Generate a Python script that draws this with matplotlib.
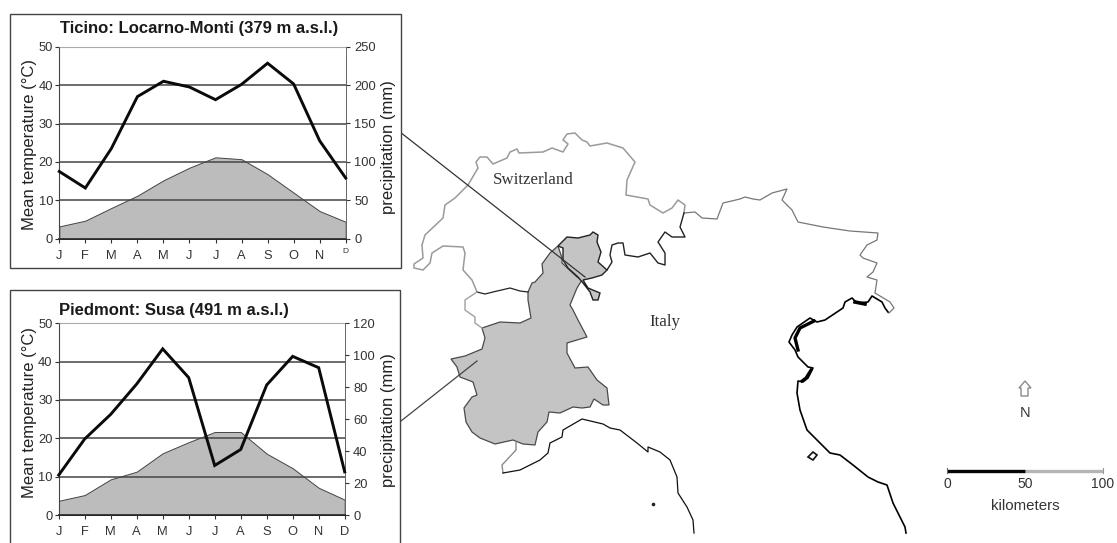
import matplotlib
matplotlib.use('Agg')
import matplotlib.pyplot as plt
from matplotlib.patches import Polygon, Rectangle

W, H = 1117, 543
plt.rcParams['font.family'] = ['Liberation Sans', 'DejaVu Sans']

months = ['J', 'F', 'M', 'A', 'M', 'J', 'J', 'A', 'S', 'O', 'N', 'D']

# climate diagrams
ticino_temp = [3.2, 4.7, 8.0, 11.2, 15.2, 18.5, 21.2, 20.7, 16.8, 12.0, 7.2, 4.4]
ticino_prec = [87.5, 66, 117.5, 185, 205, 197.5, 181, 201, 228.5, 201.5, 127.5, 79]
susa_temp = [3.7, 5.2, 9.3, 11.3, 16.1, 19.0, 21.65, 21.65, 16.0, 12.2, 7.1, 4.0]
susa_prec = [25, 47.6, 63, 82, 104, 86, 31, 41, 81.4, 99.3, 92.2, 27]

temp_ticks = [0, 10, 20, 30, 40, 50]
ticino_prec_ticks = [0, 50, 100, 150, 200, 250]
susa_prec_ticks = [0, 20, 40, 60, 80, 100, 120]

# map outlines in image pixels
swiss_north = [(477, 292), (472, 280), (463, 270), (465, 253), (463, 247), (443, 246), (432, 253),
               (430, 263), (423, 270), (414, 268), (414, 264), (423, 258), (422, 245), (425, 235),
               (443, 218), (445, 205), (455, 198), (468, 185), (478, 168), (476, 162), (480, 157),
               (487, 157), (493, 164), (507, 158), (510, 152), (517, 149), (519, 153), (543, 152),
               (552, 148), (563, 152), (568, 144), (563, 140), (567, 134), (575, 133), (582, 140),
               (587, 142), (590, 146), (607, 143), (623, 148), (635, 162), (627, 180), (626, 195),
               (648, 199), (650, 205), (663, 213), (672, 208), (678, 200), (685, 205), (684, 213)]
italy_north = [(684, 213), (695, 212), (702, 218), (717, 219), (723, 203), (740, 199), (745, 197),
               (753, 199), (760, 200), (772, 193), (787, 189), (782, 200), (792, 210), (798, 222),
               (823, 227), (850, 231), (878, 233), (877, 240), (867, 245), (860, 255), (863, 258),
               (877, 263), (873, 272), (867, 277), (877, 280), (875, 293), (890, 302), (894, 308),
               (889, 313)]
swiss_south = [(684, 213), (680, 227), (685, 237), (672, 237), (665, 232), (658, 242), (665, 253),
               (665, 265), (658, 263), (650, 253), (638, 257), (625, 255), (623, 243), (618, 243),
               (612, 245), (610, 255), (612, 262), (607, 270)]
ticino = [(558, 246), (567, 237), (578, 238), (590, 235), (593, 232), (598, 235), (597, 242),
          (601, 252), (598, 262), (607, 270), (602, 275), (592, 278), (583, 280), (588, 288),
          (600, 293), (598, 300), (593, 300), (590, 292), (583, 283), (578, 277), (568, 268),
          (563, 260), (563, 248)]
piedmont = [(558, 246), (562, 258), (562, 263), (577, 277), (582, 280), (577, 288), (570, 305),
            (573, 310), (578, 320), (587, 337), (577, 340), (567, 343), (567, 353), (575, 368),
            (588, 367), (597, 380), (607, 388), (609, 405), (603, 405), (594, 399), (590, 407),
            (582, 408), (573, 407), (560, 413), (549, 412), (547, 422), (538, 432), (535, 445),
            (523, 444), (513, 440), (495, 444), (480, 438), (472, 432), (466, 422), (464, 408),
            (472, 397), (477, 395), (473, 382), (460, 377), (457, 367), (451, 359), (465, 356),
            (482, 349), (485, 338), (482, 328), (500, 322), (520, 323), (531, 318), (528, 300),
            (528, 292), (532, 283), (535, 282), (543, 273), (542, 264), (550, 253)]
aosta_south = [(477, 292), (485, 294), (493, 292), (510, 288), (520, 291), (528, 292)]
aosta_west = [(477, 292), (465, 300), (465, 310), (475, 317), (475, 323), (482, 328)]
liguria_west = [(516, 441), (516, 450), (502, 465), (503, 473)]
ligurian_coast = [(503, 473), (520, 470), (540, 460), (548, 453), (550, 443), (562, 437), (563, 430),
                  (582, 419), (603, 424), (610, 428), (620, 430), (637, 443), (648, 452), (648, 447),
                  (660, 452), (670, 460), (677, 477), (678, 493), (687, 507), (693, 520), (694, 533)]
adriatic_coast = [(888, 312), (885, 308), (882, 302), (872, 296), (868, 302), (857, 303), (852, 298),
                  (845, 302), (843, 308), (837, 312), (825, 320), (817, 322), (810, 318), (797, 327),
                  (792, 335), (789, 342), (795, 350), (798, 357), (808, 367), (813, 368), (808, 378),
                  (803, 382), (798, 381), (797, 393), (800, 410), (807, 430), (820, 443), (830, 453),
                  (840, 455), (853, 465), (868, 477), (878, 482), (887, 485), (893, 503), (905, 527),
                  (906, 533)]
lagoon_inner = [(814, 321), (800, 328), (795, 338), (798, 350)]
lagoon_south = [(811, 370), (806, 378), (802, 381)]
lagoon_north = [(855, 302), (865, 304)]
island = [(808, 457), (813, 452), (817, 455), (813, 460)]
island_dot = [(653, 504)]
connector_ticino = [(400, 132), (585, 277)]
connector_piedmont = [(401, 421), (477, 361)]
north_arrow = [(1025, 381), (1031, 388), (1028, 388), (1028, 396), (1021, 396), (1021, 388), (1019, 388)]
scale_km = [0, 50, 100]


def climate_ax(fig, left, right, top, bottom, temp, prec, prec_ticks, title, title_x, title_y,
               ylab_y, rlab_y):
    ax = fig.add_axes([left / W, 1 - bottom / H, (right - left) / W, (bottom - top) / H])
    x = list(range(12))
    ax.fill_between(x, temp, 0, facecolor='#bcbcbc', edgecolor='#444444', linewidth=0.7)
    ax.set_xlim(0, 11)
    ax.set_ylim(0, 50)
    ax.set_xticks(x)
    ax.set_xticklabels(months)
    ax.set_yticks(temp_ticks)
    ax.grid(axis='y', color='#444444', linewidth=1.1)
    ax.set_axisbelow(False)
    ax.yaxis.get_gridlines()[-1].set_color('#aaaaaa')
    ax.tick_params(axis='x', length=3, labelsize=9.3, pad=5, color='#333333', labelcolor='#333333')
    ax.tick_params(axis='y', length=3, labelsize=9.3, pad=1.5, color='#333333', labelcolor='#333333')
    ax.patch.set_alpha(0)
    ax.spines['top'].set_color('#aaaaaa')
    ax.spines['right'].set_color('#666666')
    ax.spines['right'].set_linewidth(0.7)
    ax.spines['left'].set_color('#444444')
    ax.spines['bottom'].set_color('#222222')
    ax.spines['bottom'].set_linewidth(1.3)
    ax.set_ylabel('Mean temperature (°C)', fontsize=12, color='#222222')
    ax.yaxis.set_label_coords((37 - left) / (right - left), (bottom - ylab_y) / (bottom - top))

    ax2 = ax.twinx()
    ax2.plot(x, prec, color='#0a0a0a', linewidth=2.1, solid_joinstyle='miter', clip_on=False)
    ax2.set_ylim(prec_ticks[0], prec_ticks[-1])
    ax2.set_yticks(prec_ticks)
    ax2.tick_params(axis='y', length=3, labelsize=9.3, pad=3, color='#333333', labelcolor='#333333')
    for s in ax2.spines.values():
        s.set_visible(False)
    ax2.set_ylabel('precipitation (mm)', fontsize=12, color='#222222')
    ax2.yaxis.set_label_coords((381 - left) / (right - left), (bottom - rlab_y) / (bottom - top))

    fig.text(title_x / W, 1 - title_y / H, title, fontsize=12, fontweight='bold',
             ha='left', va='center', color='#1a1a1a')
    return ax


fig = plt.figure(figsize=(W / 100, H / 100), dpi=100)

# map layer in image pixels
m = fig.add_axes([0, 0, 1, 1])
m.set_xlim(0, W)
m.set_ylim(H, 0)
m.axis('off')


def outline(pts, color, lw):
    m.plot([p[0] for p in pts], [p[1] for p in pts], color=color, linewidth=lw, solid_joinstyle='round')


m.add_patch(Polygon(piedmont, closed=True, facecolor='#c4c4c4', edgecolor='#4a4a4a', linewidth=0.9))
m.add_patch(Polygon(ticino, closed=True, facecolor='#c4c4c4', edgecolor='#222222', linewidth=1.0))
outline(swiss_north, '#9a9a9a', 1.1)
outline(italy_north, '#777777', 0.9)
outline(swiss_south, '#222222', 1.0)
outline(aosta_south, '#222222', 0.9)
outline(aosta_west, '#a0a0a0', 1.0)
outline(liguria_west, '#8a8a8a', 1.0)
outline(ligurian_coast, '#101010', 0.9)
outline(adriatic_coast, '#000000', 1.2)
outline(lagoon_inner, '#000000', 2.4)
outline(lagoon_south, '#000000', 2.2)
outline(lagoon_north, '#000000', 2.6)
m.add_patch(Polygon(island, closed=True, facecolor='white', edgecolor='#111111', linewidth=1.2))
m.plot([p[0] for p in island_dot], [p[1] for p in island_dot], 'o', color='#222222', markersize=1.6)
outline(connector_ticino, '#333333', 0.9)
outline(connector_piedmont, '#444444', 0.9)
m.add_patch(Polygon(north_arrow, closed=True, facecolor='white', edgecolor='#8a8a8a', linewidth=1.0))

m.text(533, 180, 'Switzerland', fontsize=12.2, family=['Liberation Serif'], color='#333333', ha='center', va='center')
m.text(665, 322, 'Italy', fontsize=12.2, family=['Liberation Serif'], color='#333333', ha='center', va='center')
m.text(1025, 413, 'N', fontsize=10.5, color='#333333', ha='center', va='center')

# scale bar, km mapped onto pixels
km_x = [947 + k * (1103 - 947) / 100 for k in scale_km]
m.plot(km_x[1:], [471, 471], color='#b5b5b5', linewidth=2.4, solid_capstyle='butt')
m.plot(km_x[:2], [471, 471], color='#050505', linewidth=2.4, solid_capstyle='butt')
m.plot([km_x[2], km_x[2]], [468, 473], color='#999999', linewidth=0.8)
m.plot([km_x[0], km_x[0]], [468, 473], color='#666666', linewidth=0.8)
for k, px in zip(scale_km, km_x):
    m.text(px, 484, str(k), fontsize=10, color='#333333', ha='center', va='center')
m.text(1025, 506, 'kilometers', fontsize=10.8, color='#333333', ha='center', va='center')

# frames round the two diagrams
m.add_patch(Rectangle((9.5, 13.5), 391, 254.5, facecolor='white', edgecolor='#444444', linewidth=1.0, zorder=5))
m.add_patch(Rectangle((9.5, 290), 390.5, 260, facecolor='white', edgecolor='#444444', linewidth=1.0, zorder=5))

a1 = climate_ax(fig, 59.3, 345.7, 46.7, 238.7, ticino_temp, ticino_prec, ticino_prec_ticks,
                'Ticino: Locarno-Monti (379 m a.s.l.)', 60, 28, 144, 147)
a1.get_xticklabels()[-1].set_fontsize(6)
a1.get_xticklabels()[-1].set_y(0.012)
climate_ax(fig, 58.7, 344.7, 323.3, 515, susa_temp, susa_prec, susa_prec_ticks,
           'Piedmont: Susa (491 m a.s.l.)', 59.5, 310, 412, 420)

fig.savefig('out.png', dpi=100)
